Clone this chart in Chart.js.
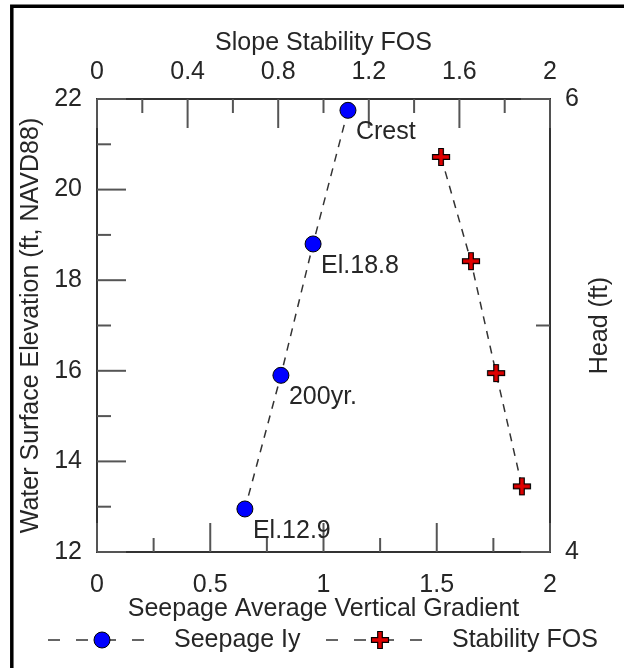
<!DOCTYPE html>
<html>
<head>
<meta charset="utf-8">
<script src="https://cdn.jsdelivr.net/npm/chart.js@4"></script>
<style>
  html, body { margin: 0; padding: 0; background: #fff; }
  #wrap { position: relative; width: 624px; height: 668px; }
</style>
</head>
<body>
<div id="wrap"><canvas id="chart" width="624" height="668"></canvas></div>
<script>
// Seepage average vertical gradient (bottom axis) vs water surface elevation
const seepageLabels = ['Crest', 'El.18.8', '200yr.', 'El.12.9'];
const seepageGradient = [1.108, 0.954, 0.812, 0.653];
const seepageElevation = [21.75, 18.8, 15.9, 12.95];

// Slope stability FOS (top axis) vs water surface elevation
const stabilityFos = [1.519, 1.651, 1.762, 1.876];
const stabilityElevation = [20.72, 18.42, 15.95, 13.45];

// tick labels
const bottomTicks = [0, 0.5, 1, 1.5, 2];
const topTicks = [0, 0.4, 0.8, 1.2, 1.6, 2];
const leftTicks = [12, 14, 16, 18, 20, 22];
const rightTicks = [4, 6];

const FONT = { family: '"Liberation Sans", Arial, sans-serif', size: 25 };
const TEXT = '#262626';
const AXIS = '#333333';

// red plus with black outline, used as point style
function makeCross() {
  const c = document.createElement('canvas');
  c.width = 22; c.height = 22;
  const g = c.getContext('2d');
  const m = 11, a = 8.5, t = 2.3;
  g.beginPath();
  g.moveTo(m - t, m - a); g.lineTo(m + t, m - a); g.lineTo(m + t, m - t);
  g.lineTo(m + a, m - t); g.lineTo(m + a, m + t); g.lineTo(m + t, m + t);
  g.lineTo(m + t, m + a); g.lineTo(m - t, m + a); g.lineTo(m - t, m + t);
  g.lineTo(m - a, m + t); g.lineTo(m - a, m - t); g.lineTo(m - t, m - t);
  g.closePath();
  g.fillStyle = '#e00000';
  g.fill();
  g.lineWidth = 1.2;
  g.strokeStyle = '#000';
  g.stroke();
  return c;
}
const crossImg = makeCross();

const fixedTicks = arr => scale => { scale.ticks = arr.map(v => ({ value: v })); };

// inward major/minor tick marks, point labels, legend and frame
const decorations = {
  id: 'decorations',
  beforeDraw(chart) {
    const ctx = chart.ctx;
    ctx.save();
    ctx.fillStyle = '#fff';
    ctx.fillRect(0, 0, chart.width, chart.height);
    ctx.restore();
  },
  afterDatasetsDraw(chart) {
    const ctx = chart.ctx;
    const { left, right, top, bottom } = chart.chartArea;
    const s = chart.scales;
    ctx.save();
    ctx.strokeStyle = '#555';
    ctx.lineWidth = 2;
    const tick = (x1, y1, x2, y2) => { ctx.beginPath(); ctx.moveTo(x1, y1); ctx.lineTo(x2, y2); ctx.stroke(); };
    const majorLen = 29, minorLen = 14;
    const withMinor = arr => {
      const out = [];
      arr.forEach((v, i) => {
        out.push([v, majorLen]);
        if (i < arr.length - 1) out.push([(v + arr[i + 1]) / 2, minorLen]);
      });
      return out;
    };
    withMinor(bottomTicks).forEach(([v, l]) => { const x = s.x.getPixelForValue(v); tick(x, bottom, x, bottom - l); });
    withMinor(topTicks).forEach(([v, l]) => { const x = s.x2.getPixelForValue(v); tick(x, top, x, top + l); });
    withMinor(leftTicks).forEach(([v, l]) => { const y = s.y.getPixelForValue(v); tick(left, y, left + l, y); });
    withMinor(rightTicks).forEach(([v, l]) => { const y = s.y2.getPixelForValue(v); tick(right, y, right - l, y); });

    // point labels
    ctx.font = `${FONT.size}px ${FONT.family}`;
    ctx.fillStyle = TEXT;
    ctx.textAlign = 'left';
    ctx.textBaseline = 'middle';
    seepageLabels.forEach((lab, i) => {
      const x = s.x.getPixelForValue(seepageGradient[i]);
      const y = s.y.getPixelForValue(seepageElevation[i]);
      ctx.fillText(lab, x + 8, y + 22);
    });
    ctx.restore();
  },
  afterDraw(chart) {
    const ctx = chart.ctx;
    const { top, bottom } = chart.chartArea;
    ctx.save();
    ctx.font = `${FONT.size}px ${FONT.family}`;
    ctx.fillStyle = TEXT;

    // right axis title, reading bottom to top like the left one
    ctx.save();
    ctx.translate(600, (top + bottom) / 2);
    ctx.rotate(-Math.PI / 2);
    ctx.textAlign = 'center';
    ctx.textBaseline = 'middle';
    ctx.fillText('Head (ft)', 0, 0);
    ctx.restore();

    // legend
    const ly = 640;
    ctx.strokeStyle = AXIS;
    ctx.lineWidth = 1.5;
    ctx.setLineDash([12, 16]);
    ctx.beginPath(); ctx.moveTo(48, ly); ctx.lineTo(150, ly); ctx.stroke();
    ctx.beginPath(); ctx.moveTo(326, ly); ctx.lineTo(428, ly); ctx.stroke();
    ctx.setLineDash([]);
    ctx.beginPath(); ctx.arc(102, ly, 8, 0, Math.PI * 2);
    ctx.fillStyle = '#0000ff'; ctx.fill();
    ctx.lineWidth = 1; ctx.strokeStyle = '#000'; ctx.stroke();
    ctx.drawImage(crossImg, 380 - 11, ly - 11);
    ctx.fillStyle = TEXT;
    ctx.textAlign = 'left';
    ctx.textBaseline = 'middle';
    ctx.fillText('Seepage Iy', 174, ly);
    ctx.fillText('Stability FOS', 452, ly);

    // outer frame
    ctx.strokeStyle = '#000';
    ctx.lineWidth = 3.5;
    ctx.beginPath();
    ctx.moveTo(11.8, chart.height);
    ctx.lineTo(11.8, 6.3);
    ctx.lineTo(chart.width, 6.3);
    ctx.stroke();
    ctx.restore();
  }
};

const axisBase = {
  grid: { display: false, drawTicks: false },
  border: { display: true, color: AXIS, width: 2 },
};
const tickStyle = pad => ({ color: TEXT, font: FONT, padding: pad, callback: v => String(v) });

new Chart(document.getElementById('chart'), {
  type: 'line',
  data: {
    datasets: [
      {
        label: 'Seepage Iy',
        data: seepageGradient.map((g, i) => ({ x: g, y: seepageElevation[i] })),
        xAxisID: 'x',
        yAxisID: 'y',
        borderColor: AXIS,
        borderWidth: 1.5,
        borderDash: [8, 7],
        pointStyle: 'circle',
        pointRadius: 8,
        pointHoverRadius: 8,
        pointBackgroundColor: '#0000ff',
        pointBorderColor: '#000',
        pointBorderWidth: 1,
        fill: false
      },
      {
        label: 'Stability FOS',
        data: stabilityFos.map((f, i) => ({ x: f, y: stabilityElevation[i] })),
        xAxisID: 'x2',
        yAxisID: 'y',
        borderColor: AXIS,
        borderWidth: 1.5,
        borderDash: [8, 7],
        pointStyle: crossImg,
        pointRadius: 9,
        fill: false
      }
    ]
  },
  options: {
    responsive: false,
    animation: false,
    layout: { padding: 0 },
    plugins: { legend: { display: false }, tooltip: { enabled: false } },
    scales: {
      x: {
        ...axisBase,
        type: 'linear', position: 'bottom', min: 0, max: 2,
        ticks: tickStyle(18),
        afterBuildTicks: fixedTicks(bottomTicks),
        afterFit: s => { s.height = 116; },
        title: { display: true, text: 'Seepage Average Vertical Gradient', color: TEXT, font: FONT, padding: { top: 0, bottom: 44 } }
      },
      x2: {
        ...axisBase,
        type: 'linear', position: 'top', min: 0, max: 2,
        ticks: tickStyle(12),
        afterBuildTicks: fixedTicks(topTicks),
        afterFit: s => { s.height = 99; },
        title: { display: true, text: 'Slope Stability FOS', color: TEXT, font: FONT, padding: { top: 28, bottom: 0 } }
      },
      y: {
        ...axisBase,
        type: 'linear', position: 'left', min: 12, max: 22,
        ticks: tickStyle(15),
        afterBuildTicks: fixedTicks(leftTicks),
        afterFit: s => { s.width = 97; },
        title: { display: true, text: 'Water Surface Elevation (ft, NAVD88)', color: TEXT, font: FONT, padding: { top: 16, bottom: 0 } }
      },
      y2: {
        ...axisBase,
        type: 'linear', position: 'right', min: 4, max: 6,
        ticks: tickStyle(15),
        afterBuildTicks: fixedTicks(rightTicks),
        afterFit: s => { s.width = 74; },
        title: { display: false }
      }
    }
  },
  plugins: [decorations]
});
</script>
</body>
</html>
